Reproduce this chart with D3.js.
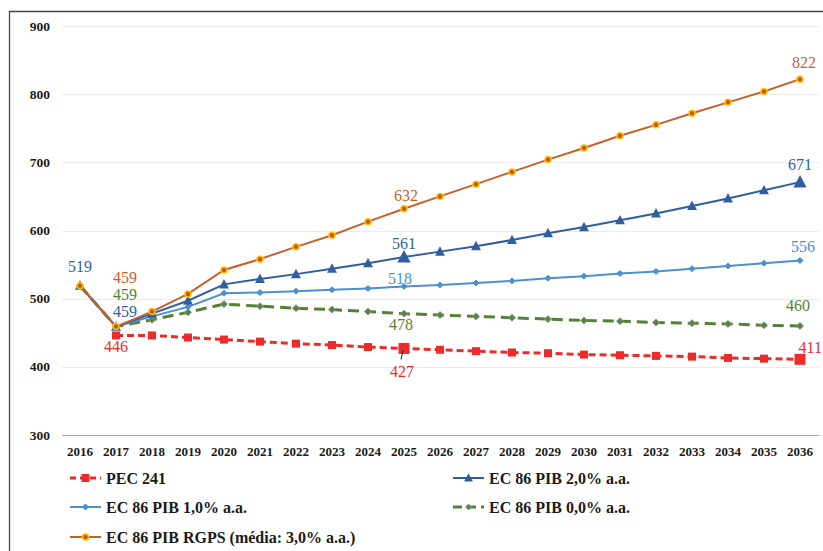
<!DOCTYPE html>
<html>
<head>
<meta charset="utf-8">
<script src="https://cdn.jsdelivr.net/npm/d3@7"></script>
<style>
  body { margin: 0; background: #fff; }
  svg { display: block; }
</style>
</head>
<body>
<div id="chart"></div>
<script>
// dados
const years = d3.range(2016, 2037).map(String);
const yTicks = [300, 400, 500, 600, 700, 800, 900];

const pec241 = [null, 446, 446, 443, 440, 437, 434, 432, 429, 427, 425, 423, 421, 420, 418, 417, 416, 415, 413, 412, 411];
const ec86pib2 = [519, 459, 478, 497, 521, 529, 536, 544, 552, 561, 569, 577, 586, 596, 605, 615, 625, 636, 647, 659, 671];
const ec86pib1 = [519, 459, 474, 488, 508, 509, 511, 513, 515, 518, 520, 523, 526, 530, 533, 537, 540, 544, 548, 552, 556];
const ec86pib0 = [519, 459, 469, 480, 492, 489, 486, 484, 481, 478, 476, 474, 472, 470, 468, 467, 465, 464, 463, 461, 460];
const ec86rgps = [519, 459, 481, 507, 542, 558, 576, 593, 613, 632, 650, 668, 686, 704, 721, 739, 755, 772, 788, 804, 822];

const width = 823;
const height = 551;
const serif = "'Liberation Serif', 'Times New Roman', serif";

const svg = d3.select("#chart").append("svg")
  .attr("width", width)
  .attr("height", height)
  .attr("font-family", serif);

// moldura
svg.append("path")
  .attr("d", `M9.5,${height} V11.5 H${width}`)
  .attr("fill", "none")
  .attr("stroke", "#444")
  .attr("stroke-width", 1.3);

const x = d3.scaleBand().domain(years).range([62, 818]);
const y = d3.scaleLinear().domain([300, 900]).range([435, 26]);

// grade
svg.append("g")
  .selectAll("line")
  .data(yTicks.filter(d => d > 300))
  .join("line")
  .attr("x1", 62).attr("x2", 819)
  .attr("y1", d => Math.round(y(d)) + 0.5)
  .attr("y2", d => Math.round(y(d)) + 0.5)
  .attr("stroke", "#ebebeb");

svg.append("line")
  .attr("x1", 62).attr("x2", 819)
  .attr("y1", y(300) + 0.5).attr("y2", y(300) + 0.5)
  .attr("stroke", "#a6a6a6");

// rótulos dos eixos
svg.append("g")
  .selectAll("text")
  .data(yTicks)
  .join("text")
  .attr("x", 50)
  .attr("y", d => y(d) + 4.5)
  .attr("text-anchor", "end")
  .attr("font-size", 13.5)
  .attr("font-weight", "bold")
  .attr("fill", "#1a1a1a")
  .text(d => d);

svg.append("g")
  .selectAll("text")
  .data(years)
  .join("text")
  .attr("x", d => x(d) + x.bandwidth() / 2)
  .attr("y", 456)
  .attr("text-anchor", "middle")
  .attr("font-size", 13)
  .attr("font-weight", "bold")
  .attr("fill", "#1a1a1a")
  .text(d => d);

const cx = i => x(years[i]) + x.bandwidth() / 2;

const series = [
  { name: "PEC 241", values: pec241, color: "#ee2b2b", width: 3, dash: "7,4", marker: "square", size: 8, mfill: "#ee2b2b", mstroke: "#ee2b2b" },
  { name: "EC 86 PIB 2,0% a.a.", values: ec86pib2, color: "#2f5f9f", width: 2, dash: null, marker: "triangle", size: 9, mfill: "#2f5f9f", mstroke: "#2f5f9f" },
  { name: "EC 86 PIB 1,0% a.a.", values: ec86pib1, color: "#4a90d2", width: 2, dash: null, marker: "diamond", size: 6, mfill: "#4a90d2", mstroke: "#4a90d2" },
  { name: "EC 86 PIB 0,0% a.a.", values: ec86pib0, color: "#548235", width: 3, dash: "11,6", marker: "diamond", size: 7, mfill: "#5d7f4a", mstroke: "#8a9a80" },
  { name: "EC 86 PIB RGPS (média: 3,0% a.a.)", values: ec86rgps, color: "#c8602a", width: 2, dash: null, marker: "circle", size: 6, mfill: "#c55a11", mstroke: "#ffc000" }
];

// pontos com rótulo levam marcador maior
const bigPoints = { 0: [9, 20], 1: [9, 20] };

function drawMarker(g, type, px, py, s, fill, stroke) {
  if (type === "square") {
    g.append("rect").attr("x", px - s / 2).attr("y", py - s / 2)
      .attr("width", s).attr("height", s).attr("fill", fill);
  } else if (type === "triangle") {
    g.append("path")
      .attr("d", `M${px},${py - s * 0.6} L${px + s * 0.55},${py + s * 0.45} L${px - s * 0.55},${py + s * 0.45} Z`)
      .attr("fill", fill);
  } else if (type === "diamond") {
    g.append("path")
      .attr("d", `M${px},${py - s / 2} L${px + s / 2},${py} L${px},${py + s / 2} L${px - s / 2},${py} Z`)
      .attr("fill", fill).attr("stroke", stroke).attr("stroke-width", 1);
  } else {
    g.append("circle").attr("cx", px).attr("cy", py).attr("r", s / 2)
      .attr("fill", fill).attr("stroke", stroke).attr("stroke-width", 1.5);
  }
}

// linhas (desenhadas de baixo para cima)
const order = [0, 3, 2, 1, 4];
order.forEach(k => {
  const s = series[k];
  const g = svg.append("g");
  const line = d3.line()
    .defined(d => d != null)
    .x((d, i) => cx(i))
    .y(d => y(d));
  g.append("path")
    .datum(s.values)
    .attr("d", line)
    .attr("fill", "none")
    .attr("stroke", s.color)
    .attr("stroke-width", s.width)
    .attr("stroke-dasharray", s.dash);
  s.values.forEach((v, i) => {
    if (v == null) return;
    const big = bigPoints[k] && bigPoints[k].includes(i);
    drawMarker(g, s.marker, cx(i), y(v), big ? s.size + 3 : s.size, s.mfill, s.mstroke);
  });
});

// rótulos de dados
const labels = [
  { s: 1, i: 0, dx: 0, dy: -14, text: "519" },
  { s: 4, i: 1, dx: 9, dy: -44, text: "459" },
  { s: 3, i: 1, dx: 9, dy: -27, text: "459" },
  { s: 1, i: 1, dx: 9, dy: -10, text: "459" },
  { s: 0, i: 1, dx: 0, dy: 17, text: "446" },
  { s: 4, i: 9, dx: 2, dy: -8, text: "632" },
  { s: 1, i: 9, dx: 0, dy: -8, text: "561" },
  { s: 2, i: 9, dx: -4, dy: -2, text: "518" },
  { s: 3, i: 9, dx: -3, dy: 16.5, text: "478" },
  { s: 0, i: 9, dx: -2, dy: 29, text: "427" },
  { s: 4, i: 20, dx: 4, dy: -11, text: "822" },
  { s: 1, i: 20, dx: 0, dy: -12, text: "671" },
  { s: 2, i: 20, dx: 3, dy: -8.5, text: "556" },
  { s: 3, i: 20, dx: -2, dy: -15, text: "460" }
];

const labelColors = ["#ee2b2b", "#2f5f9f", "#4a90d2", "#548235", "#c8602a"];

svg.append("g")
  .selectAll("text")
  .data(labels)
  .join("text")
  .attr("x", d => cx(d.i) + d.dx)
  .attr("y", d => y(series[d.s].values[d.i]) + d.dy)
  .attr("text-anchor", "middle")
  .attr("font-size", 16)
  .attr("fill", d => labelColors[d.s])
  .text(d => d.text);

// 411 encostado na borda direita
svg.append("text")
  .attr("x", width - 1)
  .attr("y", y(pec241[20]) - 6)
  .attr("text-anchor", "end")
  .attr("font-size", 16)
  .attr("fill", labelColors[0])
  .text("411");

// linha guia do 427
svg.append("line")
  .attr("x1", cx(9) - 1).attr("y1", y(427) + 2)
  .attr("x2", cx(9) - 3).attr("y2", y(427) + 11)
  .attr("stroke", "#222").attr("stroke-width", 1);

// legenda
const legendPos = [
  { x: 70, y: 478 },
  { x: 453, y: 478 },
  { x: 70, y: 507 },
  { x: 453, y: 507 },
  { x: 70, y: 537 }
];

series.forEach((s, k) => {
  const p = legendPos[k];
  const g = svg.append("g");
  g.append("line")
    .attr("x1", p.x).attr("x2", p.x + 31)
    .attr("y1", p.y).attr("y2", p.y)
    .attr("stroke", s.color)
    .attr("stroke-width", s.width)
    .attr("stroke-dasharray", s.dash ? (k === 0 ? "6,4" : "9,5") : null);
  drawMarker(g, s.marker, p.x + 15.5, p.y, s.marker === "square" || s.marker === "triangle" ? 8 : 6, s.mfill, s.mstroke);
  g.append("text")
    .attr("x", p.x + 36)
    .attr("y", p.y + 5.5)
    .attr("font-size", 16)
    .attr("font-weight", "bold")
    .attr("fill", "#1a1a1a")
    .text(s.name);
});
</script>
</body>
</html>
